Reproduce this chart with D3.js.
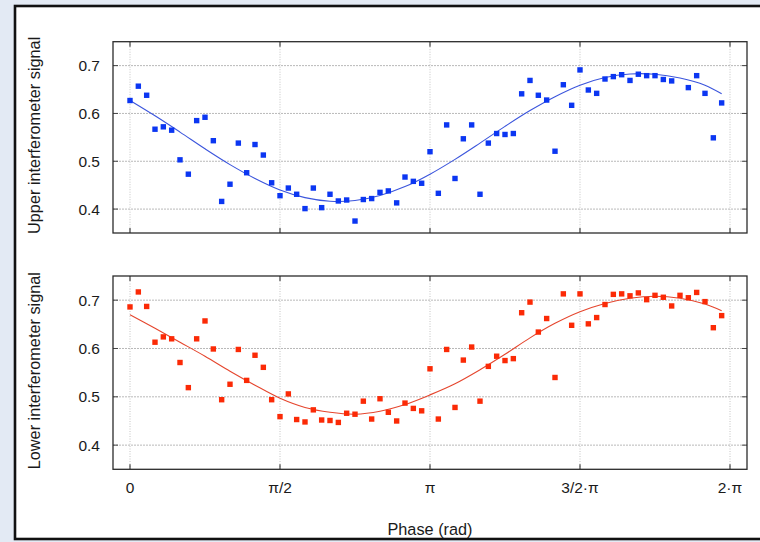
<!DOCTYPE html>
<html>
<head>
<meta charset="utf-8">
<script src="https://cdn.jsdelivr.net/npm/d3@7"></script>
<style>
  html, body { margin: 0; padding: 0; background: #e3eaf4; }
  svg { display: block; }
  text { font-family: "Liberation Sans", Arial, Helvetica, sans-serif; fill: #1a1a1a; }
</style>
</head>
<body>
<svg id="chart" width="760" height="542"></svg>
<script>
// ---------------- DATA ----------------
const phaseDeg = [0,5,10,15,20,25,30,35,40,45,50,55,60,65,70,75,80,85,90,95,
  100,105,110,115,120,125,130,135,140,145,150,155,160,165,170,175,180,185,190,195,
  200,205,210,215,220,225,230,235,240,245,250,255,260,265,270,275,280,285,290,295,
  300,305,310,315,320,325,330,335,340,345,350,355];

const upperSignal = [0.627,0.657,0.638,0.567,0.572,0.565,0.503,0.473,0.585,0.592,
  0.543,0.416,0.452,0.538,0.476,0.535,0.513,0.455,0.428,0.444,
  0.431,0.401,0.444,0.403,0.431,0.417,0.419,0.375,0.420,0.422,
  0.435,0.438,0.413,0.467,0.458,0.454,0.520,0.433,0.576,0.464,
  0.547,0.576,0.431,0.538,0.558,0.556,0.558,0.641,0.669,0.638,
  0.628,0.521,0.660,0.617,0.691,0.649,0.642,0.672,0.677,0.681,
  0.669,0.682,0.679,0.679,0.671,0.668,null,0.654,0.679,0.642,
  0.549,0.622];

const lowerSignal = [0.686,0.717,0.687,0.613,0.624,0.620,0.571,0.519,0.620,0.657,
  0.599,0.494,0.526,0.598,0.534,0.586,0.561,0.494,0.459,0.506,
  0.453,0.448,0.473,0.452,0.451,0.447,0.466,0.464,0.491,0.454,
  0.496,0.468,0.450,0.487,0.476,0.471,0.558,0.454,0.598,0.478,
  0.576,0.603,0.491,0.563,0.584,0.575,0.579,0.674,0.696,0.634,
  0.662,0.540,0.713,0.648,0.713,0.651,0.664,0.691,0.712,0.713,
  0.709,0.715,0.701,0.710,0.706,0.688,0.710,0.705,0.716,0.697,
  0.643,0.668];

// fitted curves
const fitPhaseDeg = [0,15,30,45,60,75,90,105,120,135,150,165,180,195,210,225,240,255,270,285,300,315,330,345,355];
const upperFit = [0.627,0.595,0.561,0.526,0.493,0.464,0.440,0.424,0.4165,0.418,0.4285,0.447,0.473,0.504,0.538,0.573,0.606,0.635,0.659,0.675,0.6825,0.682,0.674,0.659,0.641];
const lowerFit = [0.670,0.642,0.613,0.584,0.553,0.524,0.497,0.478,0.468,0.464,0.470,0.484,0.504,0.527,0.556,0.588,0.622,0.652,0.676,0.693,0.704,0.708,0.704,0.692,0.678];

const yTicks = [0.4, 0.5, 0.6, 0.7];
const xTickValues = [0, Math.PI / 2, Math.PI, 3 * Math.PI / 2, 2 * Math.PI];
const xTickLabels = ["0", "π/2", "π", "3/2·π", "2·π"];

const panelTitles = ["Upper interferometer signal", "Lower interferometer signal"];
const xTitle = "Phase (rad)";

// ---------------- LAYOUT ----------------
const svg = d3.select("#chart");
const toRad = d => d * Math.PI / 180;

const plotLeft = 113, plotRight = 747;
const x = d3.scaleLinear().domain([0, 2 * Math.PI]).range([130, 730]);

const panels = [
  { top: 41.7, bottom: 233, values: upperSignal, fit: upperFit, color: "#0b36f2", line: "#3b55dc", title: panelTitles[0], xlabels: false },
  { top: 276, bottom: 469.3, values: lowerSignal, fit: lowerFit, color: "#fb2a06", line: "#e5462e", title: panelTitles[1], xlabels: true }
];

// background & white frame
svg.append("rect").attr("x", 0).attr("y", 0).attr("width", 760).attr("height", 542).attr("fill", "#e3eaf4");
svg.append("rect").attr("x", 15).attr("y", 6).attr("width", 770).attr("height", 533)
  .attr("fill", "#ffffff").attr("stroke", "#111").attr("stroke-width", 2.6);

panels.forEach(p => {
  const y = d3.scaleLinear().domain([0.35, 0.75]).range([p.bottom, p.top]);
  const g = svg.append("g");

  // grid
  g.selectAll(".hgrid").data(yTicks).enter().append("line")
    .attr("x1", plotLeft).attr("x2", plotRight)
    .attr("y1", d => y(d)).attr("y2", d => y(d))
    .attr("stroke", "#b9b9b9").attr("stroke-width", 1).attr("stroke-dasharray", "2,1");
  g.selectAll(".vgrid").data(xTickValues).enter().append("line")
    .attr("x1", d => x(d)).attr("x2", d => x(d))
    .attr("y1", p.top).attr("y2", p.bottom)
    .attr("stroke", "#c4c4c4").attr("stroke-width", 1).attr("stroke-dasharray", "1,1.5");

  // inward ticks
  const tl = 5;
  g.selectAll(".ytl").data(yTicks).enter().append("line")
    .attr("x1", plotLeft).attr("x2", plotLeft + tl).attr("y1", d => y(d)).attr("y2", d => y(d))
    .attr("stroke", "#444").attr("stroke-width", 1);
  g.selectAll(".ytr").data(yTicks).enter().append("line")
    .attr("x1", plotRight).attr("x2", plotRight - tl).attr("y1", d => y(d)).attr("y2", d => y(d))
    .attr("stroke", "#444").attr("stroke-width", 1);
  g.selectAll(".xtb").data(xTickValues).enter().append("line")
    .attr("x1", d => x(d)).attr("x2", d => x(d)).attr("y1", p.bottom).attr("y2", p.bottom - tl)
    .attr("stroke", "#444").attr("stroke-width", 1.2);
  g.selectAll(".xtt").data(xTickValues).enter().append("line")
    .attr("x1", d => x(d)).attr("x2", d => x(d)).attr("y1", p.top).attr("y2", p.top + tl)
    .attr("stroke", "#444").attr("stroke-width", 1.2);

  // frame
  g.append("rect").attr("x", plotLeft).attr("y", p.top)
    .attr("width", plotRight - plotLeft).attr("height", p.bottom - p.top)
    .attr("fill", "none").attr("stroke", "#2b2b2b").attr("stroke-width", 1.3);

  // y tick labels
  g.selectAll(".ylab").data(yTicks).enter().append("text")
    .attr("x", 100).attr("y", d => y(d)).attr("dy", "0.36em")
    .attr("text-anchor", "end").attr("font-size", 15.5)
    .text(d => d3.format(".1f")(d));

  // y title
  const cy = (p.top + p.bottom) / 2 - 2;
  g.append("text").attr("transform", `translate(40,${cy}) rotate(-90)`)
    .attr("text-anchor", "middle").attr("font-size", 16.3).text(p.title);

  // fit curve
  const fitData = fitPhaseDeg.map((d, i) => ({ t: toRad(d), v: p.fit[i] }));
  g.append("path").datum(fitData)
    .attr("d", d3.line().x(d => x(d.t)).y(d => y(d.v)).curve(d3.curveCatmullRom))
    .attr("fill", "none").attr("stroke", p.line).attr("stroke-width", 1.1);

  // points
  const pts = phaseDeg.map((d, i) => ({ t: toRad(d), v: p.values[i] })).filter(d => d.v !== null);
  const s = 5.4;
  g.selectAll(".pt").data(pts).enter().append("rect")
    .attr("x", d => x(d.t) - s / 2).attr("y", d => y(d.v) - s / 2)
    .attr("width", s).attr("height", s).attr("fill", p.color);

  if (p.xlabels) {
    g.selectAll(".xlab").data(xTickValues).enter().append("text")
      .attr("x", d => x(d)).attr("y", 493)
      .attr("text-anchor", "middle").attr("font-size", 15.5)
      .text((d, i) => xTickLabels[i]);
  }
});

svg.append("text").attr("x", (plotLeft + plotRight) / 2).attr("y", 535)
  .attr("text-anchor", "middle").attr("font-size", 16.3).text(xTitle);
</script>
</body>
</html>
